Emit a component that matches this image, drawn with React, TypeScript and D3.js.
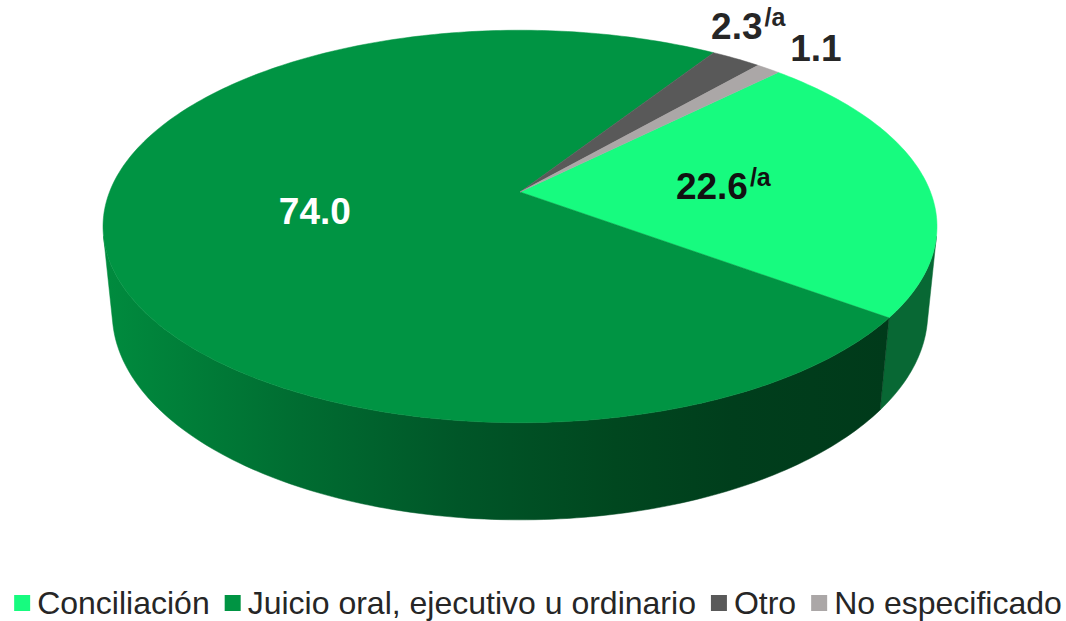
import React, { useEffect, useRef } from 'react';
import * as d3 from 'd3';

const categories = ['Conciliación', 'Juicio oral, ejecutivo u ordinario', 'Otro', 'No especificado'];
const values = [22.6, 74.0, 2.3, 1.1];
const valueLabels = ['22.6', '74.0', '2.3', '1.1'];
const notes = ['/a', '', '/a', ''];

const topColors = ['#17fb7f', '#009443', '#595959', '#aba7a7'];
const sideColors = ['#086834', 'url(#juicioSide)', '#3d3d3d', '#7a7a7a'];
const labelColors = ['#111111', '#ffffff', '#262626', '#262626'];

const W = 1066;
const H = 621;
const FONT = '"Liberation Sans", Arial, sans-serif';

// perspective camera for the 3D pie
const cam = { cx: 520, cy: 192, f: 2071, d: 5.045, phi: (27.6 * Math.PI) / 180, h: 0.24 };

function project(t: number, r: number, y: number): [number, number] {
  const u = r * Math.sin(t);
  const v = -r * Math.cos(t);
  const yc = y * Math.cos(cam.phi) - v * Math.sin(cam.phi);
  const depth = cam.d - (y * Math.sin(cam.phi) + v * Math.cos(cam.phi));
  return [cam.cx + (cam.f * u) / depth, cam.cy - (cam.f * yc) / depth];
}

const App: React.FC = () => {
  const svgRef = useRef<SVGSVGElement>(null);

  useEffect(() => {
    document.body.style.margin = '0';
    const svg = d3.select(svgRef.current).attr('width', W).attr('height', H);
    svg.selectAll('*').remove();

    const defs = svg.append('defs');
    const grad = defs.append('linearGradient')
      .attr('id', 'juicioSide')
      .attr('gradientUnits', 'userSpaceOnUse')
      .attr('x1', 105).attr('x2', 890).attr('y1', 0).attr('y2', 0);
    [['0', '#008b3e'], ['0.25', '#006c31'], ['0.45', '#005628'], ['0.65', '#00471f'], ['0.8', '#003e1c'], ['1', '#003a1a']]
      .forEach(([o, c]) => grad.append('stop').attr('offset', o).attr('stop-color', c));

    const start = Math.PI / 4;
    const pie = d3.pie<number>().sort(null).startAngle(start).endAngle(start + 2 * Math.PI);
    const arcs = pie(values);

    const line = d3.line();
    const sample = (a0: number, a1: number, r: number, y: number) => {
      const n = Math.max(2, Math.ceil(((a1 - a0) * 180) / Math.PI));
      return d3.range(n + 1).map(i => project(a0 + ((a1 - a0) * i) / n, r, y));
    };

    // visible part of the outer wall
    const vLim = 1 / (cam.d * Math.cos(cam.phi));
    const vis0 = Math.acos(-vLim);
    const vis1 = 2 * Math.PI - vis0;

    const walls = svg.append('g');
    arcs.forEach((a, i) => {
      [0, 2 * Math.PI].forEach(off => {
        const t0 = Math.max(a.startAngle, vis0 + off);
        const t1 = Math.min(a.endAngle, vis1 + off);
        if (t1 <= t0) return;
        const pts = sample(t0, t1, 1, 0).concat(sample(t0, t1, 1, -cam.h).reverse());
        walls.append('path')
          .attr('d', line(pts) + 'Z')
          .attr('fill', sideColors[i])
          .attr('stroke', sideColors[i])
          .attr('stroke-width', 0.5);
      });
    });

    const tops = svg.append('g');
    arcs.forEach((a, i) => {
      const pts = [project(0, 0, 0) as [number, number]].concat(sample(a.startAngle, a.endAngle, 1, 0));
      tops.append('path')
        .attr('d', line(pts) + 'Z')
        .attr('fill', topColors[i])
        .attr('stroke', topColors[i])
        .attr('stroke-width', 0.5);
    });

    // data labels
    const outsideOffsets: Record<number, [number, number]> = { 2: [-25, -20], 3: [22, -8] };
    const labels = svg.append('g').attr('font-family', FONT).attr('font-weight', 'bold');
    arcs.forEach((a, i) => {
      const mid = (a.startAngle + a.endAngle) / 2;
      const inside = !(i in outsideOffsets);
      let x: number, y: number;
      if (inside) {
        [x, y] = project(mid, 0.5, 0);
        y += 37 * 0.38;
      } else {
        [x, y] = project(mid, 1, 0);
        x += outsideOffsets[i][0];
        y += outsideOffsets[i][1];
      }
      const t = labels.append('text')
        .attr('x', x).attr('y', y)
        .attr('text-anchor', inside ? 'middle' : 'start')
        .attr('fill', labelColors[i])
        .attr('font-size', 37);
      t.append('tspan').text(valueLabels[i]);
      if (notes[i]) {
        t.append('tspan').attr('dx', 2).attr('dy', -13).attr('font-size', 25).text(notes[i]);
      }
    });

    // legend
    const legend = svg.append('g').attr('font-family', FONT).attr('font-size', 32).attr('fill', '#262626');
    const items = categories.map((c, i) => {
      const g = legend.append('g');
      g.append('rect').attr('width', 16).attr('height', 16).attr('y', 595).attr('fill', topColors[i]);
      const txt = g.append('text').attr('x', 23).attr('y', 614).text(c);
      const w = (txt.node() as SVGTextElement).getComputedTextLength();
      return { g, w: 23 + w };
    });
    const gap = 15;
    const total = d3.sum(items, d => d.w) + gap * (items.length - 1);
    let lx = 538 - total / 2;
    items.forEach(it => {
      it.g.attr('transform', `translate(${lx},0)`);
      lx += it.w + gap;
    });
  }, []);

  return <svg ref={svgRef}></svg>;
};

export default App;
